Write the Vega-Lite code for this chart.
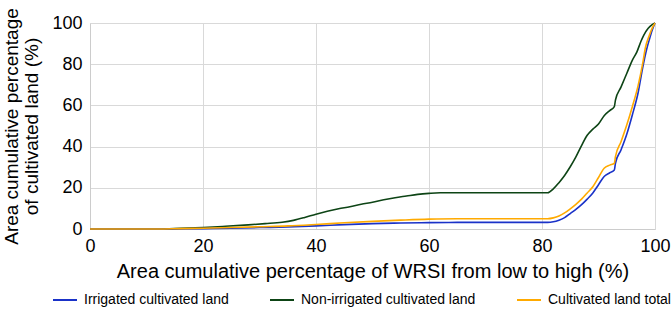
{
  "$schema": "https://vega.github.io/schema/vega-lite/v6.json",
  "width": 565,
  "height": 206,
  "autosize": {"type": "none"},
  "padding": {"left": 90, "top": 23, "right": 16, "bottom": 80},
  "background": "white",
  "config": {
    "font": "Liberation Sans, Arial, sans-serif",
    "view": {"stroke": null},
    "axis": {
      "gridColor": "#d9d9d9",
      "gridWidth": 1,
      "domainColor": "#cccccc",
      "ticks": false,
      "labelColor": "#000000",
      "titleColor": "#000000",
      "labelFont": "Liberation Sans, Arial, sans-serif",
      "titleFont": "Liberation Sans, Arial, sans-serif",
      "titleFontWeight": "normal"
    }
  },
  "data": {
    "values": [
      {"x": 0, "y": 0, "series": "Non-irrigated cultivated land"},
      {"x": 12, "y": 0, "series": "Non-irrigated cultivated land"},
      {"x": 16, "y": 0.3, "series": "Non-irrigated cultivated land"},
      {"x": 20, "y": 0.7, "series": "Non-irrigated cultivated land"},
      {"x": 24, "y": 1.3, "series": "Non-irrigated cultivated land"},
      {"x": 28, "y": 2.0, "series": "Non-irrigated cultivated land"},
      {"x": 31, "y": 2.6, "series": "Non-irrigated cultivated land"},
      {"x": 34, "y": 3.3, "series": "Non-irrigated cultivated land"},
      {"x": 36, "y": 4.2, "series": "Non-irrigated cultivated land"},
      {"x": 38, "y": 5.6, "series": "Non-irrigated cultivated land"},
      {"x": 40, "y": 7.2, "series": "Non-irrigated cultivated land"},
      {"x": 42, "y": 8.6, "series": "Non-irrigated cultivated land"},
      {"x": 44, "y": 9.8, "series": "Non-irrigated cultivated land"},
      {"x": 46, "y": 10.8, "series": "Non-irrigated cultivated land"},
      {"x": 48, "y": 12.0, "series": "Non-irrigated cultivated land"},
      {"x": 50, "y": 13.0, "series": "Non-irrigated cultivated land"},
      {"x": 52, "y": 14.2, "series": "Non-irrigated cultivated land"},
      {"x": 54, "y": 15.2, "series": "Non-irrigated cultivated land"},
      {"x": 56, "y": 16.0, "series": "Non-irrigated cultivated land"},
      {"x": 58, "y": 16.8, "series": "Non-irrigated cultivated land"},
      {"x": 60, "y": 17.3, "series": "Non-irrigated cultivated land"},
      {"x": 62, "y": 17.6, "series": "Non-irrigated cultivated land"},
      {"x": 70, "y": 17.6, "series": "Non-irrigated cultivated land"},
      {"x": 81, "y": 17.6, "series": "Non-irrigated cultivated land"},
      {"x": 82, "y": 19.5, "series": "Non-irrigated cultivated land"},
      {"x": 83, "y": 22.5, "series": "Non-irrigated cultivated land"},
      {"x": 84, "y": 26.0, "series": "Non-irrigated cultivated land"},
      {"x": 85, "y": 30.2, "series": "Non-irrigated cultivated land"},
      {"x": 86, "y": 35.0, "series": "Non-irrigated cultivated land"},
      {"x": 87, "y": 40.5, "series": "Non-irrigated cultivated land"},
      {"x": 88, "y": 45.5, "series": "Non-irrigated cultivated land"},
      {"x": 89, "y": 48.5, "series": "Non-irrigated cultivated land"},
      {"x": 90, "y": 51.0, "series": "Non-irrigated cultivated land"},
      {"x": 91, "y": 55.0, "series": "Non-irrigated cultivated land"},
      {"x": 92, "y": 57.5, "series": "Non-irrigated cultivated land"},
      {"x": 92.8, "y": 59.4, "series": "Non-irrigated cultivated land"},
      {"x": 93, "y": 62.6, "series": "Non-irrigated cultivated land"},
      {"x": 94, "y": 69.0, "series": "Non-irrigated cultivated land"},
      {"x": 95, "y": 75.5, "series": "Non-irrigated cultivated land"},
      {"x": 96, "y": 82.0, "series": "Non-irrigated cultivated land"},
      {"x": 96.8, "y": 86.0, "series": "Non-irrigated cultivated land"},
      {"x": 97.5, "y": 91.0, "series": "Non-irrigated cultivated land"},
      {"x": 98, "y": 94.0, "series": "Non-irrigated cultivated land"},
      {"x": 98.8, "y": 97.4, "series": "Non-irrigated cultivated land"},
      {"x": 99.5, "y": 99.2, "series": "Non-irrigated cultivated land"},
      {"x": 100, "y": 100, "series": "Non-irrigated cultivated land"},

      {"x": 0, "y": 0, "series": "Irrigated cultivated land"},
      {"x": 12, "y": 0, "series": "Irrigated cultivated land"},
      {"x": 20, "y": 0.2, "series": "Irrigated cultivated land"},
      {"x": 25, "y": 0.4, "series": "Irrigated cultivated land"},
      {"x": 30, "y": 0.7, "series": "Irrigated cultivated land"},
      {"x": 35, "y": 1.0, "series": "Irrigated cultivated land"},
      {"x": 40, "y": 1.5, "series": "Irrigated cultivated land"},
      {"x": 45, "y": 2.1, "series": "Irrigated cultivated land"},
      {"x": 50, "y": 2.6, "series": "Irrigated cultivated land"},
      {"x": 55, "y": 2.9, "series": "Irrigated cultivated land"},
      {"x": 60, "y": 3.1, "series": "Irrigated cultivated land"},
      {"x": 65, "y": 3.2, "series": "Irrigated cultivated land"},
      {"x": 81, "y": 3.2, "series": "Irrigated cultivated land"},
      {"x": 82, "y": 3.5, "series": "Irrigated cultivated land"},
      {"x": 83, "y": 4.3, "series": "Irrigated cultivated land"},
      {"x": 84, "y": 5.5, "series": "Irrigated cultivated land"},
      {"x": 85, "y": 7.5, "series": "Irrigated cultivated land"},
      {"x": 86, "y": 9.5, "series": "Irrigated cultivated land"},
      {"x": 87, "y": 11.8, "series": "Irrigated cultivated land"},
      {"x": 88, "y": 14.5, "series": "Irrigated cultivated land"},
      {"x": 89, "y": 17.5, "series": "Irrigated cultivated land"},
      {"x": 90, "y": 21.5, "series": "Irrigated cultivated land"},
      {"x": 91, "y": 25.5, "series": "Irrigated cultivated land"},
      {"x": 92, "y": 27.3, "series": "Irrigated cultivated land"},
      {"x": 92.8, "y": 28.6, "series": "Irrigated cultivated land"},
      {"x": 93, "y": 31.9, "series": "Irrigated cultivated land"},
      {"x": 94, "y": 38.5, "series": "Irrigated cultivated land"},
      {"x": 95, "y": 46.0, "series": "Irrigated cultivated land"},
      {"x": 96, "y": 55.5, "series": "Irrigated cultivated land"},
      {"x": 97, "y": 66.0, "series": "Irrigated cultivated land"},
      {"x": 97.8, "y": 78.0, "series": "Irrigated cultivated land"},
      {"x": 98.5, "y": 87.0, "series": "Irrigated cultivated land"},
      {"x": 99, "y": 92.0, "series": "Irrigated cultivated land"},
      {"x": 99.5, "y": 96.5, "series": "Irrigated cultivated land"},
      {"x": 100, "y": 100, "series": "Irrigated cultivated land"},

      {"x": 0, "y": 0, "series": "Cultivated land total"},
      {"x": 12, "y": 0, "series": "Cultivated land total"},
      {"x": 16, "y": 0.2, "series": "Cultivated land total"},
      {"x": 20, "y": 0.4, "series": "Cultivated land total"},
      {"x": 25, "y": 0.7, "series": "Cultivated land total"},
      {"x": 30, "y": 1.1, "series": "Cultivated land total"},
      {"x": 35, "y": 1.5, "series": "Cultivated land total"},
      {"x": 40, "y": 2.2, "series": "Cultivated land total"},
      {"x": 45, "y": 3.0, "series": "Cultivated land total"},
      {"x": 50, "y": 3.7, "series": "Cultivated land total"},
      {"x": 55, "y": 4.3, "series": "Cultivated land total"},
      {"x": 60, "y": 4.8, "series": "Cultivated land total"},
      {"x": 65, "y": 5.0, "series": "Cultivated land total"},
      {"x": 81, "y": 5.0, "series": "Cultivated land total"},
      {"x": 82, "y": 5.4, "series": "Cultivated land total"},
      {"x": 83, "y": 6.3, "series": "Cultivated land total"},
      {"x": 84, "y": 7.8, "series": "Cultivated land total"},
      {"x": 85, "y": 9.8, "series": "Cultivated land total"},
      {"x": 86, "y": 12.0, "series": "Cultivated land total"},
      {"x": 87, "y": 14.5, "series": "Cultivated land total"},
      {"x": 88, "y": 17.5, "series": "Cultivated land total"},
      {"x": 89, "y": 20.5, "series": "Cultivated land total"},
      {"x": 90, "y": 25.0, "series": "Cultivated land total"},
      {"x": 91, "y": 29.5, "series": "Cultivated land total"},
      {"x": 92, "y": 31.0, "series": "Cultivated land total"},
      {"x": 92.8, "y": 31.9, "series": "Cultivated land total"},
      {"x": 93, "y": 35.1, "series": "Cultivated land total"},
      {"x": 94, "y": 42.5, "series": "Cultivated land total"},
      {"x": 95, "y": 50.5, "series": "Cultivated land total"},
      {"x": 96, "y": 59.5, "series": "Cultivated land total"},
      {"x": 97, "y": 69.5, "series": "Cultivated land total"},
      {"x": 97.8, "y": 80.0, "series": "Cultivated land total"},
      {"x": 98.3, "y": 88.0, "series": "Cultivated land total"},
      {"x": 99, "y": 94.0, "series": "Cultivated land total"},
      {"x": 99.5, "y": 97.5, "series": "Cultivated land total"},
      {"x": 100, "y": 100, "series": "Cultivated land total"}
    ]
  },
  "mark": {"type": "line", "strokeWidth": 1.6, "interpolate": "monotone"},
  "encoding": {
    "x": {
      "field": "x",
      "type": "quantitative",
      "scale": {"domain": [0, 100], "nice": false},
      "axis": {
        "values": [0, 20, 40, 60, 80, 100],
        "title": "Area cumulative percentage of WRSI from low to high (%)",
        "titleFontSize": 20,
        "labelFontSize": 18,
        "labelPadding": 8,
        "titlePadding": 6,
        "labelFlush": false
      }
    },
    "y": {
      "field": "y",
      "type": "quantitative",
      "scale": {"domain": [0, 100], "nice": false},
      "axis": {
        "values": [0, 20, 40, 60, 80, 100],
        "title": ["Area cumulative percentage", "of cultivated land (%)"],
        "titleFontSize": 19,
        "titleLineHeight": 20,
        "labelFontSize": 18,
        "labelPadding": 8,
        "titlePadding": 10,
        "labelFlush": false
      }
    },
    "color": {
      "field": "series",
      "type": "nominal",
      "scale": {
        "domain": ["Irrigated cultivated land", "Non-irrigated cultivated land", "Cultivated land total"],
        "range": ["#1a32c8", "#0d4415", "#ffaa00"]
      },
      "legend": {
        "title": null,
        "orient": "none",
        "direction": "horizontal",
        "legendX": -38,
        "legendY": 264,
        "symbolType": "stroke",
        "symbolSize": 576,
        "symbolStrokeWidth": 2,
        "labelFontSize": 14,
        "labelLimit": 400,
        "labelColor": "#000000",
        "columnPadding": 37,
        "labelOffset": 6
      }
    }
  }
}
